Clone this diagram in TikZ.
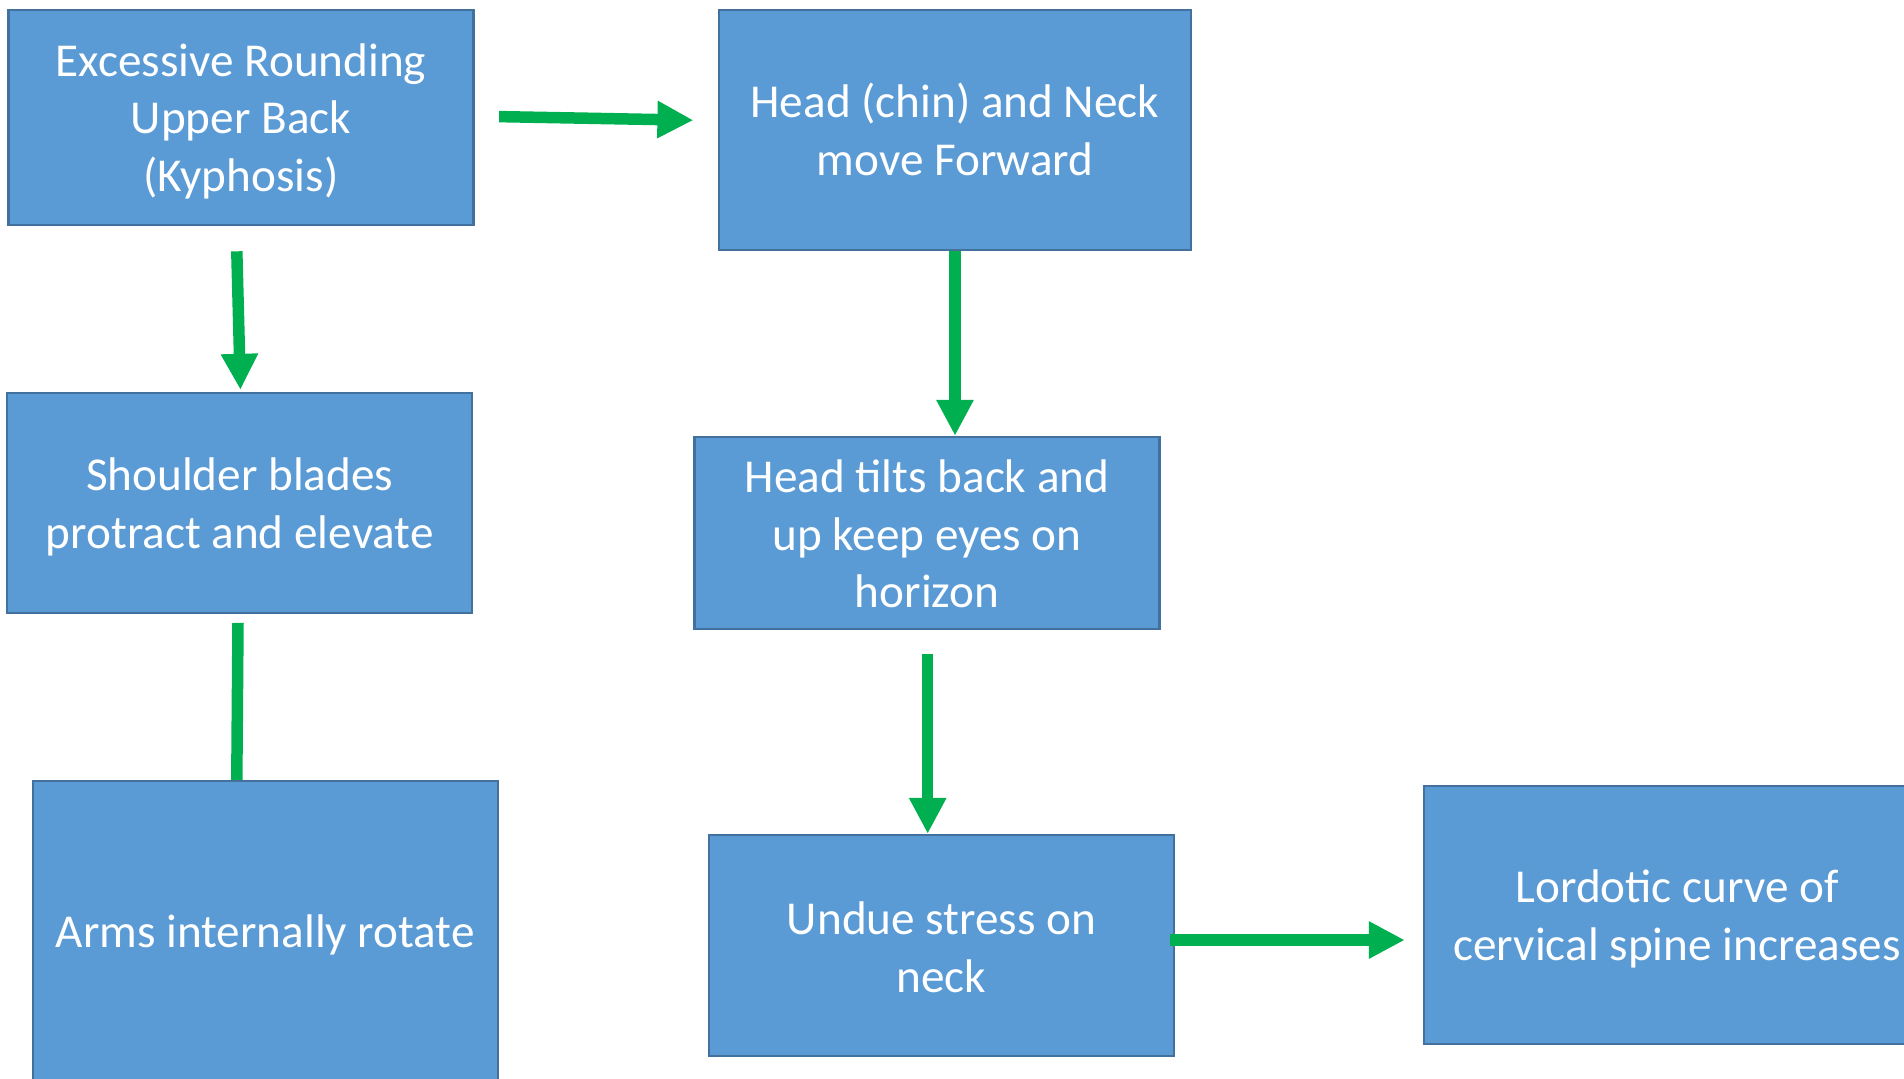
\documentclass[tikz,border=0pt]{standalone}
\usepackage{fontspec}
\setmainfont{Carlito}
\usetikzlibrary{arrows.meta,calc}
\definecolor{boxfill}{HTML}{5B9BD5}
\definecolor{boxline}{HTML}{41719C}
\definecolor{flowgreen}{HTML}{00B050}
\begin{document}
\begin{tikzpicture}[x=0.5pt,y=-0.5pt,
  box/.style={draw=boxline, fill=boxfill, line width=1.2pt, inner sep=0pt},
  boxtext/.style={text=white, align=center, inner sep=0pt,
    font=\fontsize{23.6}{28.8}\selectfont},
  flowline/.style={draw=flowgreen, line width=5.75pt},
  flowarrow/.style={flowline, -{Triangle[length=18pt,width=17.5pt]}}]
\useasboundingbox (0,0) rectangle (1904,1078);
\clip (0,0) rectangle (1904,1078);

% process boxes
\node[box, minimum width=232.5pt, minimum height=107.5pt] (b1) at (241,117.2) {};
\node[box, minimum width=236pt, minimum height=120pt] (b2) at (955,130) {};
\node[box, minimum width=232.5pt, minimum height=110pt] (b3) at (239.7,503) {};
\node[box, minimum width=232.5pt, minimum height=96pt] (b4) at (927,533) {};
\node[box, minimum width=232.5pt, minimum height=151.5pt] (b5) at (265.3,932.5) {};
\node[box, minimum width=232.5pt, minimum height=110.5pt] (b6) at (941.5,945.5) {};
\node[box, minimum width=253pt, minimum height=129pt] (b7) at (1677,915) {};

% box captions (nudged so each block of lines sits on the box's middle)
\node[boxtext, yshift=-2pt] (t1) at (b1) {Excessive Rounding\\Upper Back\\(Kyphosis)};
\node[boxtext, yshift=0.4pt] (t2) at (b2) {Head (chin) and Neck\\move Forward};
\node[boxtext, yshift=-2pt] (t3) at (b3) {Shoulder blades\\protract and elevate};
\node[boxtext, yshift=-0.5pt] (t4) at (b4) {Head tilts back and\\up keep eyes on\\horizon};
\node[boxtext, yshift=-1.4pt] (t5) at (b5) {Arms internally rotate};
\node[boxtext, yshift=-0.8pt] (t6) at (b6) {Undue stress on\\neck};
\node[boxtext, yshift=-2pt] (t7) at (b7) {Lordotic curve of\\cervical spine increases};

% connectors
\coordinate (a5s) at ($(b4.south)+(0.7,24)$);
\draw[flowarrow] ($(b1.east)+(24.4,-0.6)$) -- ($(b2.west)+(-24.4,-9.8)$);
\draw[flowarrow] ($(b1.south)+(-4.2,25.4)$) -- ($(b3.north)+(0.7,-2)$);
\draw[flowarrow] (b2.south) -- (b2.south |- b4.north);
\draw[flowline] ($(b3.south)+(-1.7,8.7)$) -- ($(b5.north)+(-28.5,0)$);
\draw[flowarrow] (a5s) -- (a5s |- b6.north);
\draw[flowarrow] ($(b6.east)+(-5,-5.5)$) -- ($(b7.west)+(-18,25)$);
\end{tikzpicture}
\end{document}
